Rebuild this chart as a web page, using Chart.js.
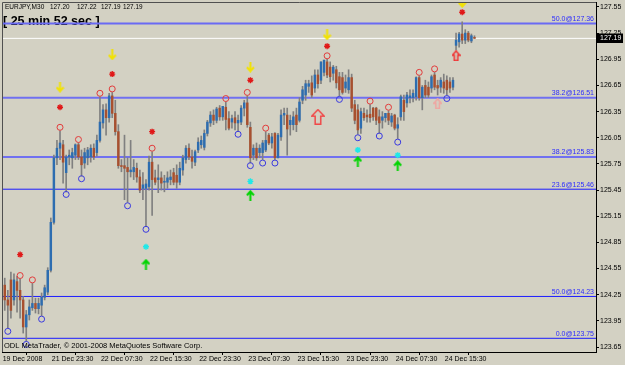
<!DOCTYPE html>
<html><head><meta charset="utf-8">
<script src="https://cdn.jsdelivr.net/npm/chart.js@4.4.1/dist/chart.umd.min.js"></script>
<style>html,body{margin:0;padding:0;background:#D3D1C3;}canvas{display:block}</style>
</head><body>
<canvas id="c" width="625" height="365"></canvas>
<script>
// ---- data (EURJPY M30) ----
const opens=[124.30,124.36,124.19,124.42,124.19,124.40,124.30,124.19,123.88,124.02,
124.10,124.15,124.09,124.13,124.22,124.28,124.53,125.08,125.82,125.93,
125.97,125.65,125.83,125.82,125.85,125.97,125.83,125.76,125.82,125.83,
125.93,125.88,126.02,126.22,126.37,126.28,126.53,126.33,126.12,125.73,
125.73,125.71,125.66,125.66,125.70,125.60,125.47,125.47,125.49,125.77,
125.59,125.57,125.59,125.54,125.54,125.57,125.65,125.62,125.54,125.68,
125.80,125.93,125.83,125.77,125.91,125.97,125.94,126.10,126.22,126.31,
126.25,126.39,126.29,126.40,126.27,126.23,126.28,126.22,126.23,126.39,
126.45,126.17,125.85,125.93,125.88,125.88,125.91,126.08,125.99,126.10,
125.82,126.06,126.31,126.31,126.20,126.20,126.31,126.25,126.48,126.54,
126.64,126.68,126.62,126.77,126.71,126.80,126.92,126.86,126.79,126.83,
126.75,126.74,126.62,126.60,126.74,126.43,126.37,126.16,126.33,126.31,
126.32,126.39,126.39,126.29,126.25,126.28,126.33,126.23,126.31,126.16,
126.29,126.48,126.45,126.51,126.51,126.52,126.74,126.51,126.65,126.63,
126.62,126.77,126.65,126.63,126.69,126.71,126.69,126.63,127.11,127.15,
127.24,127.17,127.25,127.16,127.20];
const highs=[124.42,124.44,124.30,124.51,124.49,124.46,124.43,124.23,124.07,124.19,
124.38,124.21,124.21,124.27,124.36,124.56,125.13,125.85,126.02,126.13,
126.02,125.85,125.91,125.93,125.98,125.99,125.91,125.93,125.94,125.97,
125.98,126.08,126.52,126.43,126.44,126.56,126.57,126.48,126.20,125.80,
126.08,125.82,126.02,125.80,125.76,125.68,125.65,125.57,125.84,125.89,
125.68,125.74,125.66,125.62,125.66,125.68,125.70,125.74,125.77,125.85,
125.96,125.98,125.91,125.91,126.05,126.07,126.14,126.25,126.35,126.37,
126.40,126.42,126.41,126.46,126.35,126.31,126.35,126.31,126.42,126.48,
126.53,126.23,125.97,125.99,125.97,126.02,126.12,126.10,126.10,126.11,
126.10,126.37,126.39,126.39,126.31,126.35,126.39,126.51,126.64,126.71,
126.71,126.76,126.83,126.83,126.92,126.94,126.95,126.92,126.88,126.87,
126.80,126.80,126.77,126.83,126.78,126.48,126.43,126.39,126.39,126.37,
126.43,126.40,126.40,126.37,126.35,126.33,126.36,126.33,126.32,126.28,
126.54,126.54,126.57,126.60,126.60,126.75,126.76,126.65,126.71,126.69,
126.77,126.80,126.71,126.74,126.78,126.76,126.74,126.74,127.25,127.26,
127.38,127.29,127.27,127.24,127.22];
const lows=[123.94,124.07,123.87,123.98,124.13,124.05,123.98,123.81,123.72,123.96,
124.07,124.04,124.03,124.01,124.19,124.25,124.51,125.06,125.74,125.80,
125.53,125.43,125.74,125.70,125.80,125.80,125.61,125.70,125.74,125.77,
125.80,125.84,126.00,126.16,126.08,126.23,126.28,126.08,125.70,125.66,
125.34,125.31,125.60,125.57,125.54,125.42,125.34,125.03,125.45,125.16,
125.51,125.42,125.45,125.43,125.47,125.51,125.51,125.47,125.51,125.62,
125.76,125.80,125.70,125.73,125.88,125.93,125.91,126.07,126.18,126.20,
126.22,126.25,126.25,126.14,126.14,126.16,126.14,126.12,126.20,126.30,
126.17,125.76,125.80,125.79,125.82,125.80,125.89,125.97,125.93,125.80,
125.82,126.02,126.20,125.85,126.08,126.14,126.12,126.23,126.44,126.48,
126.57,126.51,126.57,126.62,126.67,126.76,126.74,126.69,126.71,126.62,
126.53,126.55,126.57,126.56,126.35,126.21,126.09,126.10,126.25,126.23,
126.23,126.25,126.20,126.10,126.16,126.23,126.20,126.18,126.14,126.04,
126.25,126.25,126.40,126.45,126.46,126.48,126.48,126.37,126.51,126.51,
126.57,126.60,126.54,126.57,126.56,126.54,126.57,126.60,127.06,127.09,
127.13,127.13,127.15,127.14,127.19];
const closes=[124.24,124.19,124.13,124.07,124.42,124.30,124.19,123.88,124.02,124.11,
124.15,124.09,124.15,124.22,124.33,124.53,125.08,125.82,125.93,125.99,
125.77,125.83,125.85,125.88,125.97,125.83,125.74,125.88,125.91,125.93,
125.83,126.02,126.23,126.37,126.28,126.53,126.33,126.12,125.73,125.72,
125.70,125.66,125.68,125.71,125.60,125.45,125.51,125.52,125.77,125.57,
125.54,125.59,125.53,125.55,125.59,125.60,125.54,125.54,125.70,125.82,
125.93,125.83,125.78,125.89,126.00,126.02,126.10,126.23,126.31,126.25,
126.38,126.29,126.41,126.26,126.16,126.27,126.22,126.25,126.39,126.45,
126.20,125.82,125.93,125.82,125.93,125.99,126.02,125.99,126.06,125.82,
126.08,126.31,126.33,126.15,126.25,126.29,126.20,126.46,126.60,126.67,
126.67,126.54,126.77,126.67,126.92,126.94,126.77,126.75,126.86,126.68,
126.60,126.57,126.69,126.74,126.39,126.25,126.14,126.35,126.28,126.29,
126.28,126.29,126.25,126.22,126.29,126.33,126.25,126.30,126.16,126.20,
126.52,126.35,126.54,126.53,126.56,126.74,126.51,126.63,126.54,126.54,
126.75,126.63,126.62,126.71,126.62,126.60,126.62,126.71,127.17,127.24,
127.17,127.25,127.17,127.22,127.19];

const xTickIdx=[0,16,32,48,64,80,96,112,128,144];
const xTickLabels=['19 Dec 2008','21 Dec 23:30','22 Dec 07:30','22 Dec 15:30','22 Dec 23:30','23 Dec 07:30','23 Dec 15:30','23 Dec 23:30','24 Dec 07:30','24 Dec 15:30'];
const yTicks=[123.65,123.95,124.25,124.55,124.85,125.15,125.45,125.75,126.05,126.35,126.65,126.95,127.25,127.55];

const fibLevels=[127.36,126.51,125.83,125.46,124.23,123.75];
const fibLabels=['50.0@127.36','38.2@126.51','38.2@125.83','23.6@125.46','50.0@124.23','0.0@123.75'];
const bidPrice=127.19;

const redCircleIdx=[6,10,19,25,32,36,49,73,80,86,106,120,126,136,141];
const redCircleVal=[124.47,124.42,126.17,126.03,126.56,126.61,125.93,126.50,126.57,126.16,126.99,126.47,126.40,126.80,126.84];
const blueCircleIdx=[2,8,13,21,26,41,47,77,81,85,89,110,116,123,129,145];
const blueCircleVal=[123.83,123.68,123.97,125.40,125.58,125.27,125.00,126.09,125.73,125.76,125.76,126.49,126.05,126.07,126.00,126.50];
const yellowArrowIdx=[19,36,81,106,150];
const yellowArrowVal=[126.63,127.00,126.86,127.23,127.60];
const redStarIdx=[6,19,36,49,81,106,150];
const redStarVal=[124.71,126.40,126.78,126.12,126.71,127.10,127.49];
const cyanStarIdx=[47,81,116,129];
const cyanStarVal=[124.80,125.55,125.91,125.85];
const greenArrowIdx=[47,81,116,129];
const greenArrowVal=[124.60,125.39,125.78,125.73];
const bigArrowIdx=[103];
const bigArrowVal=[126.29];
const pinkArrowIdx=[142];
const pinkArrowVal=[126.44];
const smallRedArrowIdx=[148];
const smallRedArrowVal=[126.99];

const headerSymbol='EURJPY,M30';
const headerValues=['127.20','127.22','127.19','127.19'];
const timerText='[ 25 min 52 sec ]';
const copyrightText='ODL MetaTrader, \u00A9 2001-2008 MetaQuotes Software Corp.';

// ---- styles ----
const BG='#D3D1C3';
const BULL='#2D6DB0', BEAR='#A8502F', WICK='#808080';
const XMIN=0.1, XMAX=0.1+594/3.07;
const YMIN=123.593, YMAX=127.607;
const fibStyle=[{c:'#6a6af4',w:2},{c:'#7070f0',w:2},{c:'#7070f0',w:2},{c:'#1c1cff',w:1},{c:'#1c1cff',w:1},{c:'#1c1cff',w:1}];
Chart.defaults.font.family="'Liberation Sans', Arial, sans-serif";

function mk(w,h){const c=document.createElement('canvas');c.width=w;c.height=h;return c;}
function lineArrow(color,up,w,h){
  const c=mk(w,h),g=c.getContext('2d');g.strokeStyle=color;g.lineWidth=2;g.lineJoin='miter';
  const cx=w/2;g.beginPath();
  if(up){g.moveTo(cx,h);g.lineTo(cx,1.5);g.moveTo(1,h*0.5);g.lineTo(cx,1.5);g.lineTo(w-1,h*0.5);}
  else{g.moveTo(cx,0);g.lineTo(cx,h-1.5);g.moveTo(1,h*0.5);g.lineTo(cx,h-1.5);g.lineTo(w-1,h*0.5);}
  g.stroke();return c;
}
function hollowArrow(color,w,h,lw){
  const c=mk(w,h),g=c.getContext('2d');g.strokeStyle=color;g.lineWidth=lw;
  const p=lw/2,hh=h*0.45;g.beginPath();
  g.moveTo(w/2,p);g.lineTo(w-p,hh);g.lineTo(w*0.7,hh);g.lineTo(w*0.7,h-p);
  g.lineTo(w*0.3,h-p);g.lineTo(w*0.3,hh);g.lineTo(p,hh);g.closePath();g.stroke();return c;
}
const yellowImg=lineArrow('#f2e200',false,9,11);
const greenImg=lineArrow('#00d400',true,9,11);
const bigImg=hollowArrow('#f04848',14,16,1.5);
const pinkImg=hollowArrow('#f0a4a0',9,11,1.5);
const smallImg=hollowArrow('#f03030',9,11,1.5);

const pts=(ix,v)=>ix.map((x,i)=>({x:x,y:v[i]}));
const idx=opens.map((_,i)=>i);

const datasets=[];
fibLevels.forEach((lv,k)=>datasets.push({type:'line',data:[{x:XMIN,y:lv},{x:XMAX,y:lv}],borderColor:fibStyle[k].c,borderWidth:fibStyle[k].w,pointRadius:0,order:10}));
datasets.push({type:'line',data:[{x:XMIN,y:bidPrice},{x:XMAX,y:bidPrice}],borderColor:'#ffffff',borderWidth:1,pointRadius:0,order:9});
datasets.push({type:'bar',data:idx.map(i=>({x:i,y:[lows[i],highs[i]]})),backgroundColor:WICK,barThickness:1,grouped:false,order:8});
datasets.push({type:'bar',data:idx.map(i=>({x:i,y:[Math.min(opens[i],closes[i]),Math.max(opens[i],closes[i])]})),
  backgroundColor:idx.map(i=>closes[i]>=opens[i]?BULL:BEAR),barThickness:1.8,minBarLength:1,grouped:false,order:7});
const sc=(data,extra)=>Object.assign({type:'scatter',data:data,order:1,pointRadius:3,pointHoverRadius:3},extra);
datasets.push(sc(pts(redCircleIdx,redCircleVal),{pointStyle:'circle',borderColor:'#e23c3c',backgroundColor:'rgba(0,0,0,0)',borderWidth:1}));
datasets.push(sc(pts(blueCircleIdx,blueCircleVal),{pointStyle:'circle',borderColor:'#3a3ae0',backgroundColor:'rgba(0,0,0,0)',borderWidth:1}));
datasets.push(sc(pts(redStarIdx,redStarVal),{pointStyle:'star',pointRadius:3,borderColor:'#e01818',borderWidth:1.4}));
datasets.push(sc(pts(cyanStarIdx,cyanStarVal),{pointStyle:'star',pointRadius:3,borderColor:'#20e8e8',borderWidth:1.4}));
datasets.push(sc(pts(yellowArrowIdx,yellowArrowVal),{pointStyle:yellowImg,pointRadius:5}));
datasets.push(sc(pts(greenArrowIdx,greenArrowVal),{pointStyle:greenImg,pointRadius:5}));
datasets.push(sc(pts(bigArrowIdx,bigArrowVal),{pointStyle:bigImg,pointRadius:7}));
datasets.push(sc(pts(pinkArrowIdx,pinkArrowVal),{pointStyle:pinkImg,pointRadius:5}));
datasets.push(sc(pts(smallRedArrowIdx,smallRedArrowVal),{pointStyle:smallImg,pointRadius:5}));

const overlay={id:'overlay',
  beforeDraw(ch){const g=ch.ctx;g.save();g.fillStyle=BG;g.fillRect(0,0,ch.width,ch.height);g.restore();},
  beforeDatasetsDraw(ch){
    const g=ch.ctx;g.save();g.fillStyle='#000';g.textBaseline='middle';g.textAlign='left';
    g.font="6.5px 'Liberation Sans', Arial";
    g.fillText(headerSymbol,5,7.5,40);
    const hx=[50,77,101,123];
    headerValues.forEach((t,i)=>g.fillText(t,hx[i],7.5,19.5));
    g.font="bold 12.5px 'Liberation Sans', Arial";
    g.fillText(timerText,3,21.5,100);
    g.restore();
  },
  afterDatasetsDraw(ch){
    const g=ch.ctx,ys=ch.scales.y,a=ch.chartArea;g.save();
    g.font="7px 'Liberation Sans', Arial";g.fillStyle='#2b2bff';g.textAlign='right';g.textBaseline='alphabetic';
    fibLevels.forEach((lv,k)=>g.fillText(fibLabels[k],a.right-2,ys.getPixelForValue(lv)-2.5));
    g.fillStyle='#000';g.textAlign='left';g.textBaseline='middle';
    g.font="7.5px 'Liberation Sans', Arial";
    g.fillText(copyrightText,4,345.5,201);
    g.restore();
  },
  afterDraw(ch){
    const g=ch.ctx,a=ch.chartArea,ys=ch.scales.y;g.save();
    g.strokeStyle='#505050';g.lineWidth=1;g.beginPath();
    g.moveTo(a.left+0.5,a.bottom);g.lineTo(a.left+0.5,a.top+0.5);g.lineTo(a.right,a.top+0.5);g.stroke();
    const py=Math.round(ys.getPixelForValue(bidPrice));
    g.fillStyle='#000';g.fillRect(a.right+1,py-4.5,26,9.5);
    g.fillStyle='#fff';g.font="7px 'Liberation Sans', Arial";g.textBaseline='middle';g.textAlign='left';
    g.fillText(bidPrice.toFixed(2),a.right+4,py+0.5);
    g.restore();
  }
};

new Chart(document.getElementById('c'),{
  type:'bar',
  data:{datasets:datasets},
  options:{
    responsive:false,animation:false,devicePixelRatio:1,
    layout:{autoPadding:false,padding:{left:2,top:2,right:0,bottom:0}},
    plugins:{legend:{display:false},tooltip:{enabled:false},title:{display:false}},
    events:[],
    scales:{
      x:{type:'linear',min:XMIN,max:XMAX,offset:false,
        afterBuildTicks:s=>{s.ticks=xTickIdx.map(v=>({value:v}));},
        afterFit:s=>{s.height=13;s.paddingLeft=0;s.paddingRight=0;},
        ticks:{autoSkip:false,maxRotation:0,minRotation:0,align:'start',labelOffset:1,padding:0,color:'#000',font:{size:7},
          callback:v=>{const k=xTickIdx.indexOf(v);return k>=0?xTickLabels[k]:'';}},
        grid:{drawOnChartArea:false,drawTicks:true,tickLength:3,color:'#000'},
        border:{display:true,color:'#000'}},
      y:{type:'linear',position:'right',min:YMIN,max:YMAX,
        afterBuildTicks:s=>{s.ticks=yTicks.map(v=>({value:v}));},
        afterFit:s=>{s.width=29;s.paddingTop=0;s.paddingBottom=0;},
        ticks:{padding:1,crossAlign:'near',color:'#000',font:{size:7},callback:v=>Number(v).toFixed(2)},
        grid:{drawOnChartArea:false,drawTicks:true,tickLength:3,color:'#000'},
        border:{display:true,color:'#000'}}
    }
  },
  plugins:[overlay]
});
</script>
</body></html>
